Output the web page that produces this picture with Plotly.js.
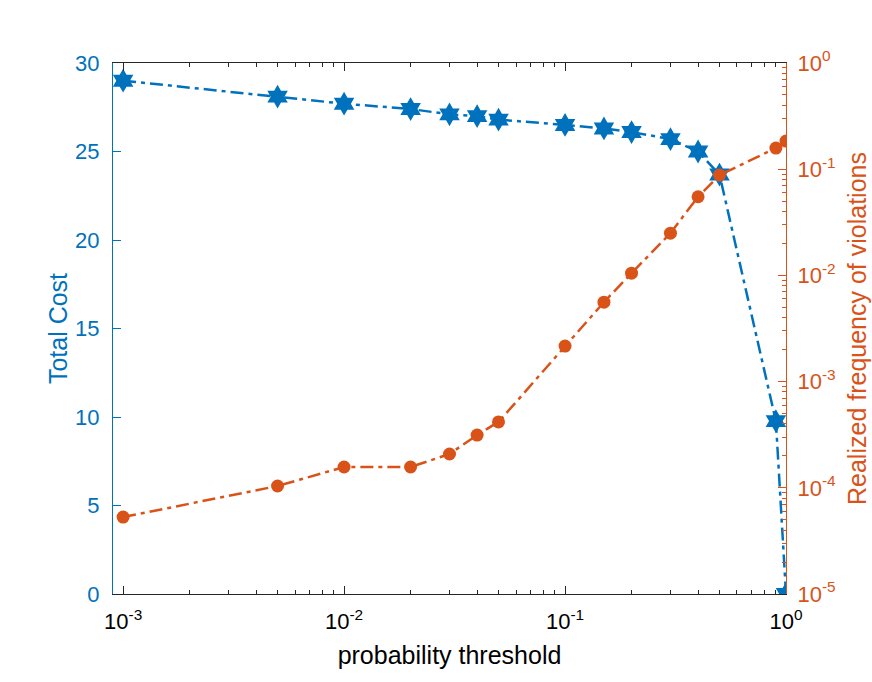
<!DOCTYPE html>
<html>
<head>
<meta charset="utf-8">
<script src="https://cdn.plot.ly/plotly-3.0.1.min.js"></script>
<style>html,body{margin:0;padding:0;background:#fff;}#chart{width:872px;height:682px;}</style>
</head>
<body>
<div id="chart"></div>
<script>
const thresholds = [0.001, 0.005, 0.01, 0.02, 0.03, 0.04, 0.05, 0.1, 0.15, 0.2, 0.3, 0.4, 0.5, 0.9, 1.0];
const totalCost = [29.0, 28.1, 27.7, 27.4, 27.1, 27.0, 26.8, 26.5, 26.3, 26.1, 25.7, 25.0, 23.7, 9.77, 0];
const violationFreq = [5.3e-5, 1.04e-4, 1.57e-4, 1.57e-4, 2.08e-4, 3.14e-4, 4.17e-4, 2.16e-3, 5.6e-3, 1.05e-2, 2.5e-2, 5.5e-2, 8.8e-2, 0.158, 0.184];
const xTickVals = [0.001, 0.01, 0.1, 1];
const xTickText = ['10<sup>-3</sup>', '10<sup>-2</sup>', '10<sup>-1</sup>', '10<sup>0</sup>'];
const yTickVals = [0, 5, 10, 15, 20, 25, 30];
const y2TickVals = [1e-5, 1e-4, 1e-3, 1e-2, 1e-1, 1];
const y2TickText = ['10<sup>-5</sup>', '10<sup>-4</sup>', '10<sup>-3</sup>', '10<sup>-2</sup>', '10<sup>-1</sup>', '10<sup>0</sup>'];

function minorLog(decades) {
  const out = [];
  decades.forEach(d => { for (let m = 2; m <= 9; m++) out.push(m * d); });
  return out;
}
const xMinor = minorLog([1e-4, 1e-3, 1e-2, 1e-1]);
const y2Minor = minorLog([1e-5, 1e-4, 1e-3, 1e-2, 1e-1]);

const blue = '#0072BD', orange = '#D95319', dark = '#262626';
const font = 'Liberation Sans, Arial, Helvetica, sans-serif';
const dashPat = '13px,5px,4px,5px';

const traces = [
  {x: thresholds, y: totalCost, type: 'scatter', mode: 'lines+markers', yaxis: 'y',
   line: {color: blue, width: 2.5, dash: dashPat},
   marker: {symbol: 'hexagram', size: 18, color: blue}, name: 'Total Cost'},
  {x: thresholds, y: violationFreq, type: 'scatter', mode: 'lines+markers', yaxis: 'y2',
   line: {color: orange, width: 2.5, dash: dashPat},
   marker: {symbol: 'circle', size: 13, color: orange}, name: 'Violations'}
];

const layout = {
  width: 872, height: 682,
  margin: {l: 113, r: 86, t: 63, b: 88},
  paper_bgcolor: '#fff', plot_bgcolor: '#fff',
  showlegend: false,
  font: {family: font, size: 22, color: dark},
  xaxis: {
    type: 'log', range: [Math.log10(0.0009), 0],
    tickvals: xTickVals, ticktext: xTickText,
    ticks: 'inside', ticklen: 8, tickcolor: dark, tickwidth: 1,
    minor: {tickmode: 'array', tickvals: xMinor, ticks: 'inside', ticklen: 4, tickcolor: dark, tickwidth: 1, showgrid: false},
    showline: true, linecolor: dark, linewidth: 1, mirror: 'ticks',
    showgrid: false, zeroline: false,
    tickfont: {size: 22, color: '#000'},
    ticklabelstandoff: 8,
    title: {text: 'probability threshold', font: {size: 25, color: '#000'}, standoff: 13}
  },
  yaxis: {
    range: [0, 30], tickvals: yTickVals,
    ticks: 'inside', ticklen: 8, tickcolor: blue, tickwidth: 1,
    showline: true, linecolor: blue, linewidth: 1,
    showgrid: false, zeroline: false,
    tickfont: {size: 22, color: blue},
    ticklabelstandoff: 8,
    title: {text: 'Total Cost', font: {size: 25, color: blue}, standoff: 0}
  },
  yaxis2: {
    type: 'log', range: [-5, 0], overlaying: 'y', side: 'right',
    tickvals: y2TickVals, ticktext: y2TickText,
    ticks: 'inside', ticklen: 8, tickcolor: orange, tickwidth: 1,
    minor: {tickmode: 'array', tickvals: y2Minor, ticks: 'inside', ticklen: 4, tickcolor: orange, tickwidth: 1, showgrid: false},
    showline: true, linecolor: orange, linewidth: 1,
    showgrid: false, zeroline: false,
    tickfont: {size: 22, color: orange},
    ticklabelstandoff: 6,
    title: {text: 'Realized frequency of violations', font: {size: 25, color: orange}, standoff: 13}
  }
};

Plotly.newPlot('chart', traces, layout, {staticPlot: true, displayModeBar: false});
</script>
</body>
</html>
